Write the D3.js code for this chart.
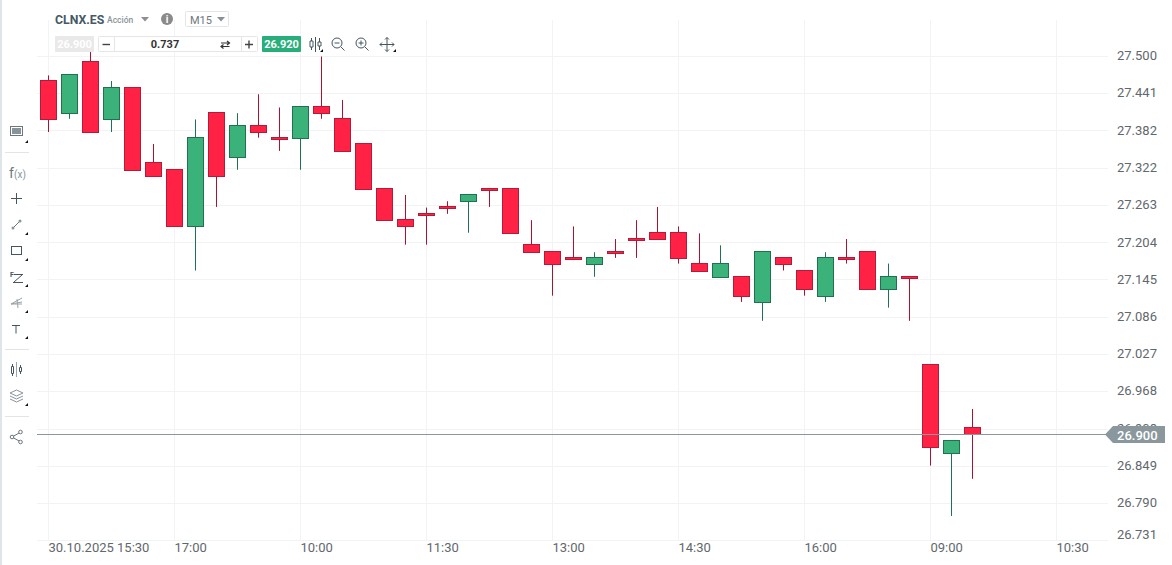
<!DOCTYPE html>
<html>
<head>
<meta charset="utf-8">
<script src="https://cdn.jsdelivr.net/npm/d3@7"></script>
<style>
  html, body { margin: 0; padding: 0; background: #fff; overflow: hidden; }
  svg { display: block; font-family: Roboto, sans-serif; }
</style>
</head>
<body>
<svg id="chart" width="1172" height="565"></svg>
<script>
// one value per 15 minute candle
const opens = [27.462, 27.409, 27.492, 27.400, 27.451, 27.332, 27.321, 27.230, 27.411, 27.340, 27.390, 27.371, 27.370, 27.421, 27.402,
  27.362, 27.290, 27.241, 27.251, 27.262, 27.270, 27.290, 27.290, 27.201, 27.190, 27.181, 27.170, 27.190, 27.211, 27.220,
  27.220, 27.171, 27.149, 27.151, 27.109, 27.181, 27.160, 27.119, 27.181, 27.190, 27.130, 27.151, 27.011, 26.869, 26.911];
const closes = [27.400, 27.471, 27.379, 27.451, 27.319, 27.309, 27.230, 27.371, 27.309, 27.390, 27.379, 27.368, 27.421, 27.409, 27.349,
  27.289, 27.240, 27.230, 27.247, 27.259, 27.281, 27.287, 27.219, 27.189, 27.170, 27.178, 27.181, 27.187, 27.208, 27.209,
  27.179, 27.159, 27.171, 27.119, 27.190, 27.170, 27.130, 27.181, 27.178, 27.130, 27.151, 27.147, 26.879, 26.890, 26.900];
const highs = [27.470, 27.471, 27.510, 27.461, 27.451, 27.361, 27.321, 27.400, 27.411, 27.410, 27.440, 27.419, 27.421, 27.500, 27.431,
  27.362, 27.290, 27.280, 27.260, 27.270, 27.281, 27.290, 27.290, 27.240, 27.190, 27.230, 27.189, 27.210, 27.240, 27.261,
  27.230, 27.219, 27.200, 27.151, 27.190, 27.181, 27.160, 27.189, 27.210, 27.190, 27.171, 27.151, 27.011, 26.890, 26.940];
const lows = [27.380, 27.401, 27.379, 27.380, 27.319, 27.309, 27.230, 27.160, 27.261, 27.320, 27.371, 27.350, 27.320, 27.401, 27.349,
  27.289, 27.240, 27.201, 27.201, 27.250, 27.220, 27.261, 27.219, 27.189, 27.120, 27.178, 27.150, 27.180, 27.180, 27.209,
  27.171, 27.159, 27.149, 27.110, 27.080, 27.160, 27.120, 27.110, 27.171, 27.130, 27.101, 27.080, 26.850, 26.770, 26.829];

const priceTicks = [27.500, 27.441, 27.382, 27.322, 27.263, 27.204, 27.145, 27.086, 27.027, 26.968, 26.908, 26.849, 26.790, 26.731];
const timeTicks = [0, 6, 12, 18, 24, 30, 36, 42, 48];
const timeLabels = ['30.10.2025 15:30', '17:00', '10:00', '11:30', '13:00', '14:30', '16:00', '09:00', '10:30'];
const lastPrice = 26.900;

const svg = d3.select('#chart');
const x = d3.scaleLinear().domain([0, 48]).range([48, 1056]);
const y = d3.scaleLinear().domain([27.5, 26.731]).range([56.5, 540.5]);
const snap = v => Math.floor(v) + 0.5;

const GRID = '#f2f3f4';
const TEXT = '#5f686c';

// left edge of the page
svg.append('rect').attr('width', 2).attr('height', 565).attr('fill', '#dfe4e8');

// grid
svg.append('g').selectAll('line').data(priceTicks).join('line')
  .attr('x1', 37).attr('x2', 1108)
  .attr('y1', d => snap(y(d))).attr('y2', d => snap(y(d)))
  .attr('stroke', GRID);
svg.append('g').selectAll('line').data(timeTicks).join('line')
  .attr('x1', d => x(d) + 0.5).attr('x2', d => x(d) + 0.5)
  .attr('y1', 20).attr('y2', 541)
  .attr('stroke', GRID);

// axes
const yAxis = d3.axisRight(y).tickValues(priceTicks).tickSize(0).tickPadding(0).tickFormat(d3.format('.3f'));
const yG = svg.append('g').attr('transform', 'translate(1117,0)').call(yAxis);
yG.select('.domain').remove();
yG.selectAll('text').attr('font-size', 13).attr('font-family', 'Roboto, sans-serif').attr('fill', TEXT)
  .attr('dy', d => d === 26.731 ? '-0.15em' : '0.25em');

const xAxis = d3.axisBottom(x).tickValues(timeTicks).tickSize(0).tickPadding(0).tickFormat((d, i) => timeLabels[i]);
const xG = svg.append('g').attr('transform', 'translate(0,543)').call(xAxis);
xG.select('.domain').remove();
xG.selectAll('text').attr('font-size', 13).attr('font-family', 'Roboto, sans-serif').attr('fill', TEXT)
  .attr('text-anchor', 'start').attr('dy', '0.71em');

// candles
const candles = d3.range(opens.length);
const isUp = i => closes[i] > opens[i];
const g = svg.append('g');
g.selectAll('line').data(candles).join('line')
  .attr('x1', i => x(i) + 0.5).attr('x2', i => x(i) + 0.5)
  .attr('y1', i => y(highs[i])).attr('y2', i => y(lows[i]))
  .attr('stroke', i => isUp(i) ? '#1f7150' : '#a8142f');
g.selectAll('rect').data(candles).join('rect')
  .attr('x', i => x(i) - 7.5)
  .attr('width', 16)
  .attr('y', i => snap(y(Math.max(opens[i], closes[i]))))
  .attr('height', i => Math.max(2, snap(y(Math.min(opens[i], closes[i]))) - snap(y(Math.max(opens[i], closes[i])))))
  .attr('fill', i => isUp(i) ? '#3ab27a' : '#ff2244')
  .attr('stroke', i => isUp(i) ? '#1f7150' : '#b51a38');

// current price line and tag
const py = snap(y(lastPrice));
svg.append('line').attr('x1', 37).attr('x2', 1106).attr('y1', py).attr('y2', py).attr('stroke', '#8a979c');
svg.append('path').attr('d', `M1105,${py} L1113,${py - 8.5} L1165,${py - 8.5} L1165,${py + 8.5} L1113,${py + 8.5} Z`).attr('fill', '#8a979c');
svg.append('text').attr('x', 1117).attr('y', py + 5).attr('font-size', 13).attr('font-weight', 500).attr('fill', '#fff').text(d3.format('.3f')(lastPrice));

// top toolbar
const bar = svg.append('g');
bar.append('text').attr('x', 55).attr('y', 24).attr('font-size', 12.3).attr('font-weight', 700).attr('fill', '#455a64').text('CLNX.ES');
bar.append('text').attr('x', 107).attr('y', 23).attr('font-size', 8.5).attr('font-weight', 500).attr('fill', '#8a949a').text('Acción');
bar.append('path').attr('d', 'M141,17 h8 l-4,4.5 Z').attr('fill', '#8a8f93');
bar.append('circle').attr('cx', 167).attr('cy', 19).attr('r', 6).attr('fill', '#8a8a8a');
bar.append('text').attr('x', 167).attr('y', 23).attr('font-size', 10).attr('font-weight', 700).attr('text-anchor', 'middle').attr('fill', '#fff').text('i');
bar.append('rect').attr('x', 185.5).attr('y', 11.5).attr('width', 43).attr('height', 15).attr('rx', 1).attr('fill', '#fff').attr('stroke', '#e3e5e6');
bar.append('text').attr('x', 190).attr('y', 24).attr('font-size', 11).attr('fill', '#6f787d').text('M15');
bar.append('path').attr('d', 'M217,17 h8 l-4,4.5 Z').attr('fill', '#8a8f93');

bar.append('rect').attr('x', 55).attr('y', 36).attr('width', 39).attr('height', 16).attr('rx', 1).attr('fill', '#e9e9e9');
bar.append('text').attr('x', 74.5).attr('y', 48).attr('font-size', 11).attr('font-weight', 700).attr('text-anchor', 'middle').attr('fill', '#fff').text('26.900');
bar.append('rect').attr('x', 98.5).attr('y', 36.5).attr('width', 159).attr('height', 15).attr('rx', 1).attr('fill', '#fff').attr('stroke', '#e6e6e6');
bar.append('path').attr('d', 'M114.5,37 V51 M241.5,37 V51').attr('stroke', '#e6e6e6');
bar.append('path').attr('d', 'M102.5,44.5 H110').attr('stroke', '#444').attr('stroke-width', 1.4);
bar.append('text').attr('x', 165).attr('y', 48).attr('font-size', 11).attr('font-weight', 700).attr('text-anchor', 'middle').attr('fill', '#333').text('0.737');
bar.append('path').attr('d', 'M221,43 h8 M227,41 l2.5,2 l-2.5,2 M229.5,46.5 h-8 M223.5,44.5 l-2.5,2 l2.5,2').attr('fill', 'none').attr('stroke', '#333').attr('stroke-width', 1.2);
bar.append('path').attr('d', 'M245,44.5 h8 M249,40.5 v8').attr('stroke', '#444').attr('stroke-width', 1.4);
bar.append('rect').attr('x', 262).attr('y', 36).attr('width', 39).attr('height', 16).attr('rx', 1).attr('fill', '#27ae7a');
bar.append('text').attr('x', 281.5).attr('y', 48).attr('font-size', 11).attr('font-weight', 700).attr('text-anchor', 'middle').attr('fill', '#fff').text('26.920');

const ICON = '#46565e';
const icons = bar.append('g').attr('fill', 'none').attr('stroke', ICON);
icons.append('path').attr('d', 'M311.5,38 V50 M315.5,37 V52 M319.5,38 V50');
icons.append('path').attr('d', 'M310,41 h3 v6 h-3 Z M318,42 h3 v4 h-3 Z').attr('fill', '#fff');
icons.append('circle').attr('cx', 337).attr('cy', 43).attr('r', 5);
icons.append('path').attr('d', 'M334.5,43 h5 M341,47 l3.5,3.5');
icons.append('circle').attr('cx', 361).attr('cy', 43).attr('r', 5);
icons.append('path').attr('d', 'M358.5,43 h5 M361,40.5 v5 M365,47 l3.5,3.5');
icons.append('path').attr('d', 'M380,44.5 h14 M387,37.5 v14 M382,42.5 l-2,2 l2,2 M392,42.5 l2,2 l-2,2 M385,39.5 l2,-2 l2,2 M385,49.5 l2,2 l2,-2');
const corners = [[323, 52], [396, 52], [28, 143], [28, 235], [28, 261], [28, 287], [28, 313], [28, 339], [28, 406]];
bar.append('g').selectAll('path').data(corners).join('path')
  .attr('d', d => `M${d[0]},${d[1]} h-3 l3,-3 Z`).attr('fill', '#111');

// left toolbar
const side = svg.append('g').attr('fill', 'none').attr('stroke', ICON);
side.append('path').attr('d', 'M5,152.5 H29 M5,349.5 H29 M5,416.5 H29').attr('stroke', '#e2e4e5');
side.append('rect').attr('x', 10.5).attr('y', 126.5).attr('width', 12).attr('height', 9).attr('fill', '#fff').attr('stroke', '#6b777d');
side.append('rect').attr('x', 12).attr('y', 128).attr('width', 9).attr('height', 6).attr('fill', '#87949a').attr('stroke', 'none');
side.append('text').attr('x', 9).attr('y', 178).attr('font-size', 14).attr('fill', '#6b777d').attr('stroke', 'none').text('f');
side.append('text').attr('x', 14).attr('y', 178).attr('font-size', 10).attr('fill', '#8a949a').attr('stroke', 'none').text('(x)');
side.append('path').attr('d', 'M11,198.5 h11 M16.5,193 v11');
side.append('path').attr('d', 'M13,228 L20,221').attr('stroke', '#6b777d');
side.append('circle').attr('cx', 13).attr('cy', 228).attr('r', 1.5).attr('fill', '#8a949a').attr('stroke', 'none');
side.append('circle').attr('cx', 20).attr('cy', 221).attr('r', 1.5).attr('fill', '#8a949a').attr('stroke', 'none');
side.append('rect').attr('x', 11.5).attr('y', 246.5).attr('width', 10).attr('height', 8);
side.append('path').attr('d', 'M14,274.5 h9 M13,282.5 h10 M14,282 l8,-7');
side.append('text').attr('x', 10).attr('y', 277).attr('font-size', 7).attr('font-weight', 700).attr('fill', ICON).attr('stroke', 'none').text('F');
side.append('path').attr('d', 'M11,304 L22,298 M11,304 L22,302 M11,304 H22 M17,299 l1,9').attr('stroke', '#9aa4a9');
side.append('path').attr('d', 'M12,325.5 h8 M16,325.5 v8');
side.append('path').attr('d', 'M16.5,362 v15').attr('stroke', '#9aa4a9');
side.append('path').attr('d', 'M11.5,366.5 h2 v7 h-2 Z M19.5,367.5 h2 v4 h-2 Z M12.5,364 v2 M12.5,374 v2 M20.5,365 v2 M20.5,372 v2');
side.append('path').attr('d', 'M10,393 l6.5,-3 l6.5,3 l-6.5,3 Z M10,396 l6.5,3 l6.5,-3 M10,399 l6.5,3 l6.5,-3').attr('stroke', '#8a949a');
side.append('path').attr('d', 'M12,437 L20,432.5 M12,437 L20,441.5').attr('stroke', '#6b777d');
side.selectAll('circle.share').data([[12, 437], [20.5, 432], [20.5, 442]]).join('circle').attr('class', 'share')
  .attr('cx', d => d[0]).attr('cy', d => d[1]).attr('r', 1.8).attr('fill', '#fff').attr('stroke', '#6b777d');
</script>
</body>
</html>
